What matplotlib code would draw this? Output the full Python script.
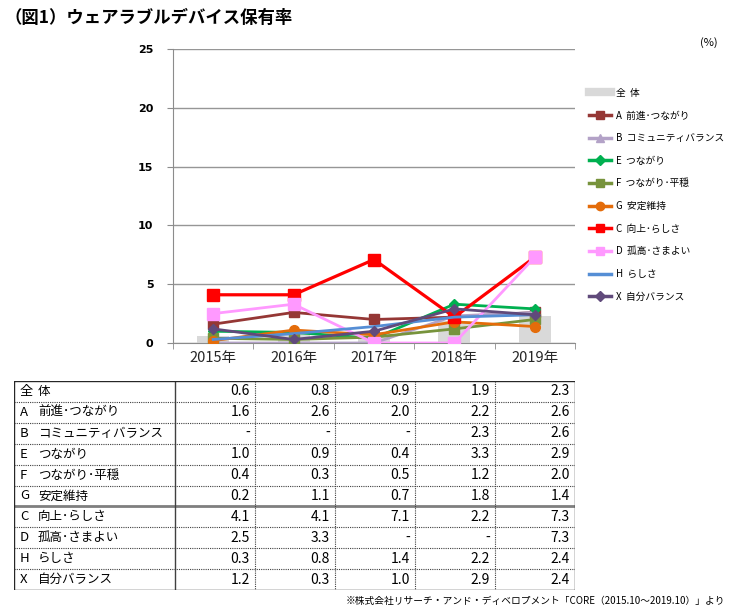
import matplotlib
matplotlib.use("Agg")
import numpy as np
import matplotlib.pyplot as plt
from matplotlib.lines import Line2D

plt.rcParams['font.family'] = ['Noto Sans CJK JP', 'DejaVu Sans']

years = ['2015年', '2016年', '2017年', '2018年', '2019年']
total = [0.6, 0.8, 0.9, 1.9, 2.3]

codes = ['A', 'B', 'E', 'F', 'G', 'C', 'D', 'H', 'X']
names = ['前進･つながり', 'コミュニティバランス', 'つながり', 'つながり･平穏',
         '安定維持', '向上･らしさ', '孤高･さまよい', 'らしさ', '自分バランス']
vals_A = [1.6, 2.6, 2.0, 2.2, 2.6]
vals_B = [None, None, None, 2.3, 2.6]
vals_E = [1.0, 0.9, 0.4, 3.3, 2.9]
vals_F = [0.4, 0.3, 0.5, 1.2, 2.0]
vals_G = [0.2, 1.1, 0.7, 1.8, 1.4]
vals_C = [4.1, 4.1, 7.1, 2.2, 7.3]
vals_D = [2.5, 3.3, None, None, 7.3]
vals_H = [0.3, 0.8, 1.4, 2.2, 2.4]
vals_X = [1.2, 0.3, 1.0, 2.9, 2.4]
series = [vals_A, vals_B, vals_E, vals_F, vals_G, vals_C, vals_D, vals_H, vals_X]

colors = ['#953735', '#b3a2c7', '#00b050', '#77933c', '#e46c0a',
          '#ff0000', '#ff99ff', '#558ed5', '#604a7b']
markers = ['s', '^', 'D', 's', 'o', 's', 's', None, 'D']
msizes = [6.5, 6, 5, 6.5, 7, 8, 8, 0, 5]
lwidths = [2, 2, 2, 2, 2, 2.3, 2, 2, 2]

W, H = 730, 612
fig = plt.figure(figsize=(W / 100, H / 100), dpi=100)

fig.text(5 / W, 1 - 18 / H, '（図1）ウェアラブルデバイス保有率', fontsize=12.5,
         fontweight='bold', va='center', ha='left')

ax = fig.add_axes([173 / W, 1 - 343 / H, 402 / W, 294 / H])
x = np.arange(len(years))
ax.bar(x, total, width=0.4, color='#d9d9d9', zorder=1)
for vals, c, m, ms, lw in zip(series, colors, markers, msizes, lwidths):
    y = [0 if v is None else v for v in vals]
    ax.plot(x, y, color=c, marker=m, markersize=ms, lw=lw, zorder=3)

ax.set_xlim(-0.5, 4.5)
ax.set_ylim(0, 25)
ax.set_yticks([0, 5, 10, 15, 20, 25])
ax.yaxis.grid(True, color='#969696', lw=1)
ax.set_axisbelow(True)
ax.set_xticks(x)
ax.set_xticklabels(years, fontsize=10.5, color='#262626')
ax.set_xticks(np.arange(-0.5, 5, 1), minor=True)
ax.tick_params(axis='x', which='major', length=0, pad=6)
ax.tick_params(axis='x', which='minor', length=4, color='#8c8c8c')
ax.tick_params(axis='y', length=4, color='#8c8c8c', labelsize=8, pad=10)
for lab in ax.get_yticklabels():
    lab.set_fontweight('bold')
    lab.set_family('DejaVu Sans')
for s in ['top', 'right']:
    ax.spines[s].set_visible(False)
ax.spines['left'].set_color('#8c8c8c')
ax.spines['bottom'].set_color('#8c8c8c')

fig.text(718 / W, 1 - 43 / H, '(%)', fontsize=8, ha='right', va='center')

# legend
handles = [Line2D([0], [0], color='#d9d9d9', lw=6)]
labels = ['全  体']
for code, name, c, m, ms in zip(codes, names, colors, markers, msizes):
    handles.append(Line2D([0], [0], color=c, lw=2.5, marker=m,
                          markersize=min(ms, 6)))
    labels.append(code + '  ' + name)
fig.legend(handles, labels, loc='upper left',
           bbox_to_anchor=(585 / W, 1 - 84 / H), frameon=False,
           fontsize=7, labelspacing=1.3, handlelength=2.3,
           handletextpad=0.5, borderaxespad=0)

# table
tx0, tx1, ty0, ty1 = 14, 575, 381, 590
tab = fig.add_axes([tx0 / W, 1 - ty1 / H, (tx1 - tx0) / W, (ty1 - ty0) / H])
tab.set_xlim(tx0, tx1)
nrows = len(codes) + 1
tab.set_ylim(nrows, 0)
tab.axis('off')
col_edges = [175, 255, 335, 415, 495, 575]
row_labels = [('全', '体')] + list(zip(codes, names))
row_vals = [total] + series
for i, (lab, vals) in enumerate(zip(row_labels, row_vals)):
    yc = i + 0.5
    tab.text(20, yc, lab[0], fontsize=9.5, va='center', ha='left')
    tab.text(38, yc, lab[1], fontsize=9, va='center', ha='left')
    for j, v in enumerate(vals):
        s = '-' if v is None else f'{v:.1f}'
        tab.text(col_edges[j + 1] - 5, yc, s, fontsize=10, va='center', ha='right')
for i in range(1, nrows):
    if i == 6:
        tab.plot([tx0, tx1], [i, i], color='#7f7f7f', lw=2)
    else:
        tab.plot([tx0, tx1], [i, i], color='#404040', lw=0.8, ls=(0, (1, 1)))
for xe in col_edges[1:-1]:
    tab.plot([xe, xe], [0, nrows], color='#404040', lw=0.8, ls=(0, (1, 1)))
tab.plot([175, 175], [0, nrows], color='#404040', lw=1)
tab.plot([tx0, tx1, tx1, tx0, tx0], [0, 0, nrows, nrows, 0], color='#262626', lw=1)

fig.text(725 / W, 1 - 601 / H,
         '※株式会社リサーチ・アンド・ディベロプメント「CORE（2015.10～2019.10）」より',
         fontsize=7, ha='right', va='center')

fig.savefig('out.png', dpi=100)
